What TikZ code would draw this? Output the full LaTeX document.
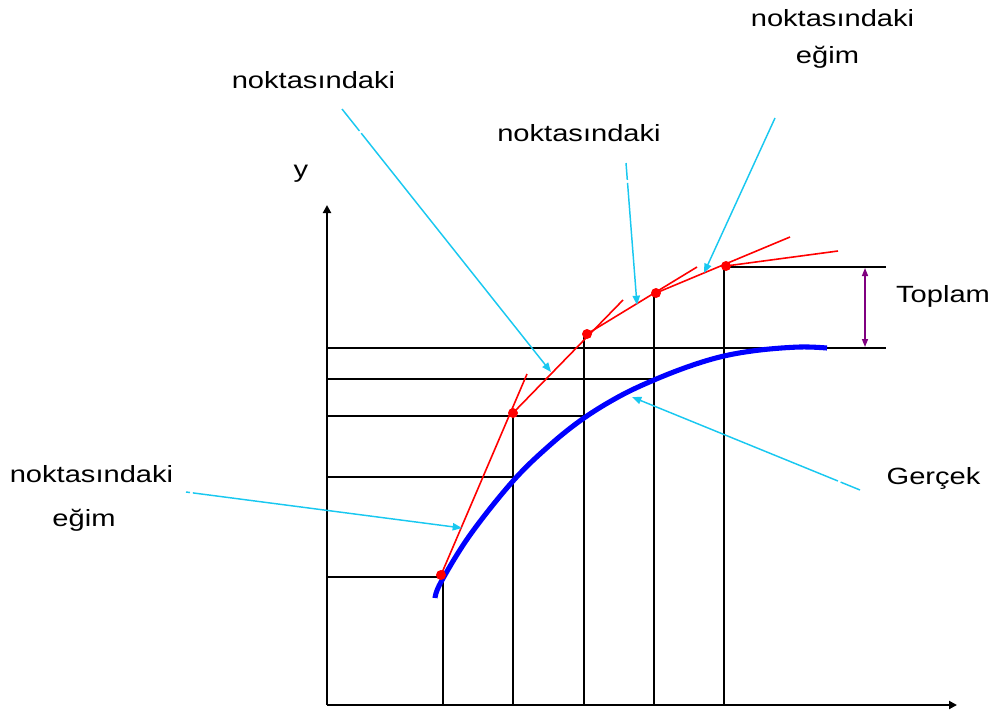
\documentclass[tikz,border=0pt]{standalone}
\usepackage{fontspec}
\usepackage{graphicx}
\setmainfont{Liberation Sans}
\usetikzlibrary{arrows.meta}
\definecolor{skyc}{RGB}{25,200,240}
\definecolor{purp}{RGB}{128,0,128}
\newcommand\hs[1]{\scalebox{1.24}[1]{#1}}
\tikzset{
  lbl/.style={inner sep=0pt, anchor=base, font=\fontsize{17.6}{20}\selectfont},
  gridline/.style={black, line width=1.5pt},
  axisline/.style={black, line width=1.5pt, -{Triangle[length=6pt,width=6pt]}},
  tangent/.style={red, line width=1.2pt},
  truecurve/.style={blue, line width=3.8pt},
  pointer/.style={skyc, line width=1.1pt, -{Triangle[length=7pt,width=5.5pt]}},
  eulerdot/.style={circle, fill=red, inner sep=0pt, minimum size=7.5pt},
  bracket/.style={purp, line width=1.1pt, {Triangle[length=6pt,width=4.5pt]}-{Triangle[length=6pt,width=4.5pt]}}
}
\begin{document}
\begin{tikzpicture}[x=0.75pt,y=-0.75pt]
\useasboundingbox (0,0) rectangle (994,710);
% axes
\coordinate (O) at (327,705);
\coordinate (Ytip) at (327,205);
\coordinate (Xtip) at (957,705);
\draw[axisline] (O) -- (Ytip);
\draw[axisline] (O) -- (Xtip);
% grid coordinates
\coordinate (b1) at (443,705); \coordinate (t1) at (443,577);
\coordinate (b2) at (513,705); \coordinate (t2) at (513,413);
\coordinate (b3) at (584,705); \coordinate (t3) at (584,334);
\coordinate (b4) at (654,705); \coordinate (t4) at (654,293);
\coordinate (b5) at (724,705); \coordinate (t5) at (724,267);
\draw[gridline] (b1) -- (t1);
\draw[gridline] (b2) -- (t2);
\draw[gridline] (b3) -- (t3);
\draw[gridline] (b4) -- (t4);
\draw[gridline] (b5) -- (t5);
\coordinate (h1a) at (327,577); \coordinate (h1b) at (443,577);
\coordinate (h2a) at (327,477); \coordinate (h2b) at (513,477);
\coordinate (h3a) at (327,416); \coordinate (h3b) at (584,416);
\coordinate (h4a) at (327,379); \coordinate (h4b) at (654,379);
\coordinate (h5a) at (327,348); \coordinate (h5b) at (886,348);
\coordinate (h6a) at (724,267); \coordinate (h6b) at (886,267);
\draw[gridline] (h1a) -- (h1b);
\draw[gridline] (h2a) -- (h2b);
\draw[gridline] (h3a) -- (h3b);
\draw[gridline] (h4a) -- (h4b);
\draw[gridline] (h5a) -- (h5b);
\draw[gridline] (h6a) -- (h6b);
% true curve
\draw[truecurve] plot[smooth, tension=0.6] coordinates {(435,598) (441,582) (470,535) (513,481) (550,445) (584,418) (620,396) (654,380) (690,366) (724,356) (760,350) (800,347) (827,348)};
% Euler points and tangents
\coordinate (p1) at (441,575);
\coordinate (p2) at (513,413);
\coordinate (p3) at (587,334);
\coordinate (p4) at (656,293);
\coordinate (p5) at (726,266);
\coordinate (e1) at (527,374);
\coordinate (e2) at (623,300);
\coordinate (e3) at (697,267);
\coordinate (e4) at (790,237);
\coordinate (e5) at (838,251);
\draw[tangent] (p1) -- (e1);
\draw[tangent] (p2) -- (e2);
\draw[tangent] (p3) -- (e3);
\draw[tangent] (p4) -- (e4);
\draw[tangent] (p5) -- (e5);
\node[eulerdot] (d1) at (p1) {};
\node[eulerdot] (d2) at (p2) {};
\node[eulerdot] (d3) at (p3) {};
\node[eulerdot] (d4) at (p4) {};
\node[eulerdot] (d5) at (p5) {};
% Toplam bracket
\coordinate (tp1) at (865,268);
\coordinate (tp2) at (865,347);
\draw[bracket] (tp1) -- (tp2);
% labels
\node[lbl] (ylab) at (301,177) {\hs{y}};
\node[lbl] (lab1) at (313.5,88) {\hs{noktasındaki}};
\node[lbl] (lab2) at (579,141) {\hs{noktasındaki}};
\node[lbl] (lab3a) at (832.5,27) {\hs{noktasındaki}};
\node[lbl] (lab3b) at (827.5,64) {\hs{eğim}};
\node[lbl] (lab4a) at (91.5,482) {\hs{noktasındaki}};
\node[lbl] (lab4b) at (84,526) {\hs{eğim}};
\node[lbl] (toplam) at (943,302) {\hs{Toplam}};
\node[lbl] (gercek) at (933.5,484) {\hs{Gerçek}};
% pointers
\coordinate (s1) at (342,109); \coordinate (a1) at (551,372);
\coordinate (s2) at (626,163); \coordinate (a2) at (637,305);
\coordinate (s3) at (775,118); \coordinate (a3) at (704,273);
\coordinate (s4) at (186,492); \coordinate (a4) at (462,528);
\coordinate (s5) at (860,490); \coordinate (a5) at (632,397);
\draw[pointer, dash pattern=on 21pt off 2.2pt on 1000pt] (s1) -- (a1);
\draw[pointer, dash pattern=on 12.7pt off 2.2pt on 1000pt] (s2) -- (a2);
\draw[pointer] (s3) -- (a3);
\draw[pointer, dash pattern=on 3pt off 2.2pt on 1000pt] (s4) -- (a4);
\draw[pointer, dash pattern=on 15.7pt off 2.2pt on 1000pt] (s5) -- (a5);
\end{tikzpicture}
\end{document}
